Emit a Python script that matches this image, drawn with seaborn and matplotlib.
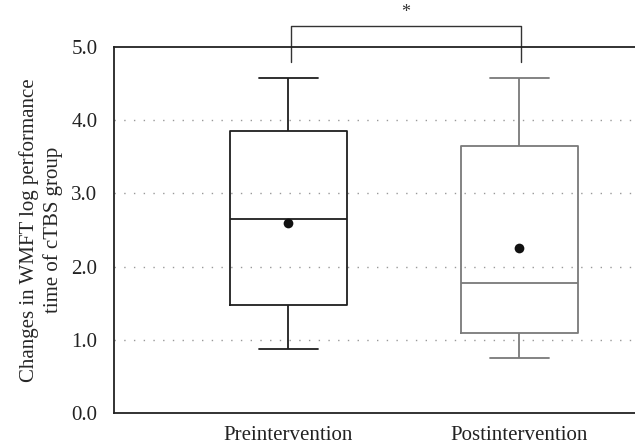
import numpy as np
import pandas as pd
import matplotlib
matplotlib.use("Agg")
import matplotlib.pyplot as plt
import seaborn as sns

# ── data ──────────────────────────────────────────────────────────────────────
groups   = ["Preintervention", "Postintervention"]
whisk_lo = [0.87, 0.75]
q1       = [1.47, 1.09]
median   = [2.65, 1.77]
q3       = [3.85, 3.65]
whisk_hi = [4.57, 4.57]
means    = [2.60, 2.25]
yticks   = [0.0, 1.0, 2.0, 3.0, 4.0, 5.0]
ylabel   = "Changes in WMFT log performance\ntime of cTBS group"

# five-number summaries -> quartiles reproduce exactly with linear percentiles
rows = []
for i, g in enumerate(groups):
    for v in (whisk_lo[i], q1[i], median[i], q3[i], whisk_hi[i]):
        rows.append({"group": g, "value": v})
df = pd.DataFrame(rows)

sns.set_style("white")
plt.rcParams["font.family"] = ["Liberation Serif", "DejaVu Serif"]
FS = 15

fig = plt.figure(figsize=(6.35, 4.44), dpi=100)
ax = fig.add_axes([0.1795, 0.0698, 0.8205, 0.8243])

sns.boxplot(
    data=df, x="group", y="value", hue="group", order=groups,
    palette=["#1f1f1f", "#7a7a7a"], fill=False, width=0.505,
    whis=(0, 100), linewidth=1.3, legend=False, ax=ax,
)
sns.stripplot(
    x=groups, y=means, color="#111111", jitter=False, size=7,
    ax=ax, zorder=5,
)

ax.set_xlim(-0.755, 1.50)
ax.set_ylim(0, 5)
ax.set_yticks(yticks)
ax.set_yticklabels([f"{t:.1f}" for t in yticks])
ax.set_xlabel("")
ax.set_ylabel(ylabel, fontsize=FS, labelpad=6, linespacing=1.25)
ax.tick_params(axis="y", direction="out", length=5, width=1.1,
               color="#222222", labelsize=FS, pad=7, labelcolor="#222222")
ax.tick_params(axis="x", length=0, labelsize=FS, pad=9, labelcolor="#222222")

for y in yticks[1:-1]:
    ax.axhline(y, color="#999999", lw=1.0, ls=(0, (1, 6)), zorder=0)

for side in ("left", "bottom", "top"):
    ax.spines[side].set_color("#222222")
    ax.spines[side].set_linewidth(1.3)
ax.spines["right"].set_visible(False)

# significance bracket
xb = [0.01, 1.005]
ax.plot([xb[0], xb[0], xb[1], xb[1]], [4.8, 5.29, 5.29, 4.8],
        color="#333333", lw=1.0, clip_on=False)
ax.text(sum(xb) / 2, 5.36, "*", ha="center", va="bottom", fontsize=13,
        color="#333333")

fig.savefig("out.png", dpi=100)
